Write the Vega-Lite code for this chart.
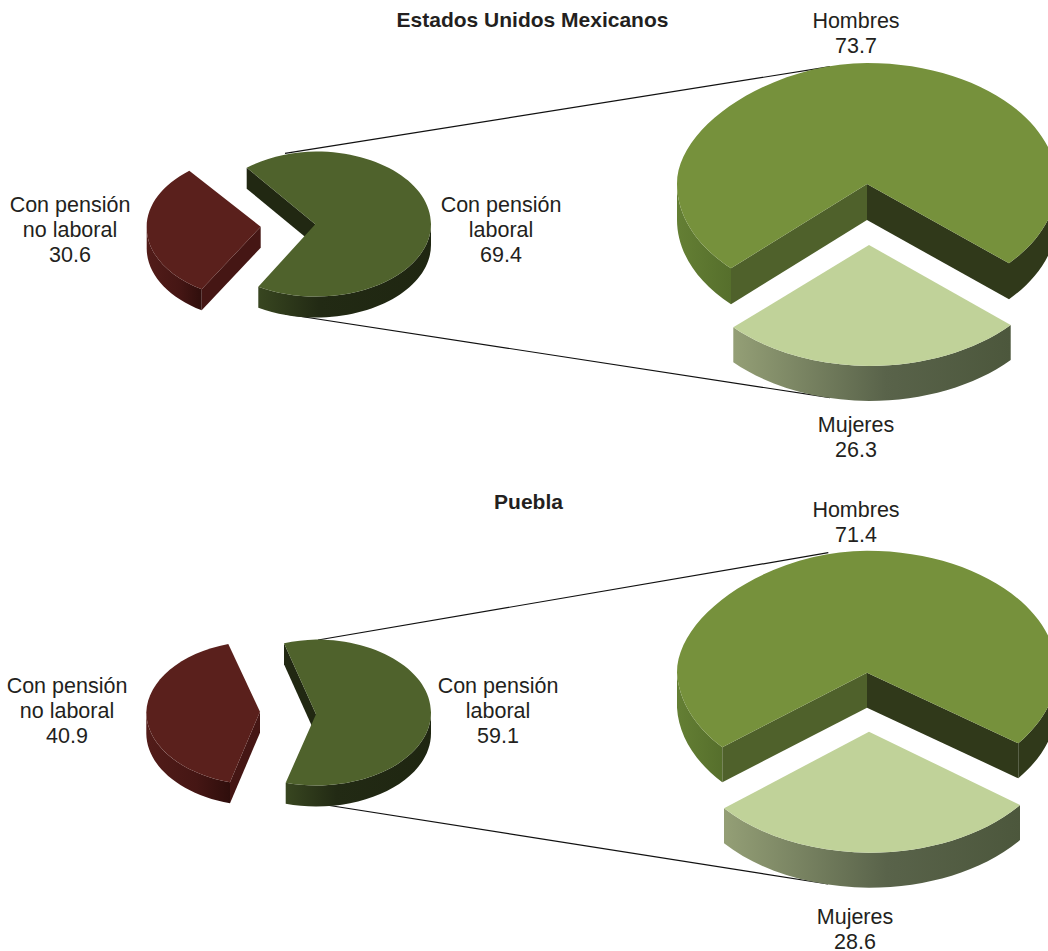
{
"$schema":"https://vega.github.io/schema/vega-lite/v6.json",
"width":1048,"height":951,"padding":0,"autosize":{"type":"none"},"background":"white",
"config":{"view":{"stroke":null}},
"datasets":{
"sectores":[
{"entity":"Estados Unidos Mexicanos","pie":"Total","name":"Con pensión no laboral","value":30.6},
{"entity":"Estados Unidos Mexicanos","pie":"Total","name":"Con pensión laboral","value":69.4},
{"entity":"Estados Unidos Mexicanos","pie":"Sexo","name":"Hombres","value":73.7},
{"entity":"Estados Unidos Mexicanos","pie":"Sexo","name":"Mujeres","value":26.3},
{"entity":"Puebla","pie":"Total","name":"Con pensión no laboral","value":40.9},
{"entity":"Puebla","pie":"Total","name":"Con pensión laboral","value":59.1},
{"entity":"Puebla","pie":"Sexo","name":"Hombres","value":71.4},
{"entity":"Puebla","pie":"Sexo","name":"Mujeres","value":28.6}
],
"titulos":[
{"entity":"Estados Unidos Mexicanos","pie":"Total","titulo":"Estados  Unidos  Mexicanos"},
{"entity":"Puebla","pie":"Total","titulo":"Puebla"}
],
"caras":[
{"entity":"Estados Unidos Mexicanos","pie":"Total","face":"e.c1","tone":"conector"},
{"entity":"Estados Unidos Mexicanos","pie":"Total","face":"e.c2","tone":"conector"},
{"entity":"Puebla","pie":"Total","face":"p.c1","tone":"conector"},
{"entity":"Puebla","pie":"Total","face":"p.c2","tone":"conector"},
{"entity":"Estados Unidos Mexicanos","pie":"Total","face":"e.nl.ext","tone":"nl-ext"},
{"entity":"Puebla","pie":"Total","face":"p.nl.ext","tone":"nl-ext"},
{"entity":"Estados Unidos Mexicanos","pie":"Total","face":"e.l.ext","tone":"l-ext"},
{"entity":"Puebla","pie":"Total","face":"p.l.ext","tone":"l-ext"},
{"entity":"Estados Unidos Mexicanos","pie":"Sexo","face":"e.h.izq","tone":"h-ext"},
{"entity":"Puebla","pie":"Sexo","face":"p.h.izq","tone":"h-ext"},
{"entity":"Estados Unidos Mexicanos","pie":"Sexo","face":"e.m.ext","tone":"m-ext"},
{"entity":"Puebla","pie":"Sexo","face":"p.m.ext","tone":"m-ext"},
{"entity":"Estados Unidos Mexicanos","pie":"Total","face":"e.nl.int","tone":"nl-int"},
{"entity":"Estados Unidos Mexicanos","pie":"Total","face":"e.nl.sup","tone":"nl-sup"},
{"entity":"Estados Unidos Mexicanos","pie":"Total","face":"e.l.int","tone":"l-int"},
{"entity":"Estados Unidos Mexicanos","pie":"Total","face":"e.l.sup","tone":"l-sup"},
{"entity":"Estados Unidos Mexicanos","pie":"Sexo","face":"e.h.der","tone":"h-osc"},
{"entity":"Estados Unidos Mexicanos","pie":"Sexo","face":"e.h.ii","tone":"h-int"},
{"entity":"Estados Unidos Mexicanos","pie":"Sexo","face":"e.h.id","tone":"h-osc"},
{"entity":"Estados Unidos Mexicanos","pie":"Sexo","face":"e.h.sup","tone":"h-sup"},
{"entity":"Estados Unidos Mexicanos","pie":"Sexo","face":"e.m.sup","tone":"m-sup"},
{"entity":"Puebla","pie":"Total","face":"p.nl.int","tone":"nl-int"},
{"entity":"Puebla","pie":"Total","face":"p.nl.sup","tone":"nl-sup"},
{"entity":"Puebla","pie":"Total","face":"p.l.int","tone":"l-int"},
{"entity":"Puebla","pie":"Total","face":"p.l.sup","tone":"l-sup"},
{"entity":"Puebla","pie":"Sexo","face":"p.h.der","tone":"h-osc"},
{"entity":"Puebla","pie":"Sexo","face":"p.h.ii","tone":"h-int"},
{"entity":"Puebla","pie":"Sexo","face":"p.h.id","tone":"h-osc"},
{"entity":"Puebla","pie":"Sexo","face":"p.h.sup","tone":"h-sup"},
{"entity":"Puebla","pie":"Sexo","face":"p.m.sup","tone":"m-sup"}
]
},
"encoding":{
"x":{"field":"pie","type":"nominal","axis":null,"scale":{"type":"point","padding":0,"domain":["Total","Sexo"],"range":[316,867]}},
"y":{"field":"entity","type":"nominal","axis":null,"scale":{"type":"point","padding":0,"domain":["Estados Unidos Mexicanos","Puebla"],"range":[224,712.5]}}
},
"layer":[
{"data":{"name":"caras"},
"encoding":{
"shape":{"field":"face","type":"nominal","legend":null,"scale":{
"domain":["e.c1","e.c2","p.c1","p.c2","e.nl.ext","p.nl.ext","e.l.ext","p.l.ext","e.h.izq","p.h.izq","e.m.ext","p.m.ext","e.nl.int","e.nl.sup","e.l.int","e.l.sup","e.h.der","e.h.ii","e.h.id","e.h.sup","e.m.sup","p.nl.int","p.nl.sup","p.l.int","p.l.sup","p.h.der","p.h.ii","p.h.id","p.h.sup","p.m.sup"],
"range":[
"M-31,-70.7L514,-157.3",
"M-31,90L514,173.7",
"M2,-72.5L512.3,-159.8",
"M4,91.5L512,171.5",
"M-114.3,65.3A115,72.5 0 0 1 -169.3,2.7L-169.3,23.7A115,72.5 0 0 0 -114.3,86.3Z",
"M-86,69.8A115,73 0 0 1 -169.7,0L-169.7,21A115,73 0 0 0 -86,90.8Z",
"M115,0A115,72.5 0 0 1 0,72.5A115,72.5 0 0 1 -57.7,62.7L-57.7,83.7A115,72.5 0 0 0 0,93.5A115,72.5 0 0 0 115,21Z",
"M115,0A115,73 0 0 1 0,73A115,73 0 0 1 -30.3,70.2L-30.3,91.2A115,73 0 0 0 0,94A115,73 0 0 0 115,21Z",
"M-136,44.3A190,121 0 0 1 -190,-40L-190,-4A190,121 0 0 0 -136,80.3Z",
"M-144.7,34.8A190,122 0 0 1 -190,-39.8L-190,-4.8A190,122 0 0 0 -144.7,69.8Z",
"M-133.7,103.3A190,121 0 0 0 2,142A190,121 0 0 0 143.7,101L143.7,136A190,121 0 0 1 2,177A190,121 0 0 1 -133.7,138.3Z",
"M-143,95.8A190,121 0 0 0 2,140.2A190,121 0 0 0 153,92.5L153,127.5A190,121 0 0 1 2,175.2A190,121 0 0 1 -143,130.8Z",
"M-55.3,2.7L-114.3,65.3L-114.3,86.3L-55.3,23.7Z",
"M-55.3,2.7L-114.3,65.3A115,72.5 0 0 1 -169.3,2.7A115,72.5 0 0 1 -126.7,-53.3Z",
"M-0.7,0.3L-69.3,-56.3L-69.3,-35.3L-0.7,21.3Z",
"M-0.7,0.3L-69.3,-56.3A115,72.5 0 0 1 0,-72.5A115,72.5 0 0 1 115,0A115,72.5 0 0 1 0,72.5A115,72.5 0 0 1 -57.7,62.7Z",
"M142,39.3A190,121 0 0 0 190,-40L190,-4A190,121 0 0 1 142,75.3Z",
"M0,-40L-136,44.3L-136,80.3L0,-4Z",
"M0,-40L142,39.3L142,75.3L0,-4Z",
"M0,-40L-136,44.3A190,121 0 0 1 -190,-40C-190,-100 -92,-161 0,-161A190,121 0 0 1 190,-40A190,121 0 0 1 142,39.3Z",
"M2,21L-133.7,103.3A190,121 0 0 0 2,142A190,121 0 0 0 143.7,101Z",
"M-56,-0.8L-86,69.8L-86,90.8L-56,20.2Z",
"M-56,-0.8L-86,69.8A115,73 0 0 1 -169.7,0A115,73 0 0 1 -87.7,-68.5Z",
"M0,1.8L-32,-69.2L-32,-48.2L0,22.8Z",
"M0,1.8L-32,-69.2A115,73 0 0 1 0,-73A115,73 0 0 1 115,0A115,73 0 0 1 0,73A115,73 0 0 1 -30.3,70.2Z",
"M151.3,30.8A190,122 0 0 0 190,-39.8L190,-4.8A190,122 0 0 1 151.3,65.8Z",
"M0,-39.8L-144.7,34.8L-144.7,69.8L0,-4.8Z",
"M0,-39.8L151.3,30.8L151.3,65.8L0,-4.8Z",
"M0,-39.8L-144.7,34.8A190,122 0 0 1 -190,-39.8C-190,-100 -94,-161.8 0,-161.8A190,122 0 0 1 190,-39.8A190,122 0 0 1 151.3,30.8Z",
"M2,19.2L-143,95.8A190,121 0 0 0 2,140.2A190,121 0 0 0 153,92.5Z"
]}},
"size":{"value":4}
},
"layer":[
{"transform":[{"filter":"datum.tone==='conector'"}],
"mark":{"type":"point","filled":false,"stroke":"#111111","strokeWidth":1.2,"opacity":1}},
{"transform":[{"filter":"datum.tone==='nl-ext'"}],
"mark":{"type":"point","filled":true,"opacity":1,"strokeWidth":0,"fill":{"x1":0,"y1":0,"x2":1,"y2":0,"gradient":"linear","stops":[{"offset":0,"color":"#521c19"},{"offset":0.6,"color":"#451614"},{"offset":1,"color":"#2f0e0c"}]}}},
{"transform":[{"filter":"datum.tone==='l-ext'"}],
"mark":{"type":"point","filled":true,"opacity":1,"strokeWidth":0,"fill":{"x1":0,"y1":0,"x2":1,"y2":0,"gradient":"linear","stops":[{"offset":0,"color":"#384620"},{"offset":0.35,"color":"#222a14"},{"offset":1,"color":"#1f2611"}]}}},
{"transform":[{"filter":"datum.tone==='h-ext'"}],
"mark":{"type":"point","filled":true,"opacity":1,"strokeWidth":0,"fill":{"x1":0,"y1":0,"x2":1,"y2":0,"gradient":"linear","stops":[{"offset":0,"color":"#647f34"},{"offset":1,"color":"#566f2c"}]}}},
{"transform":[{"filter":"datum.tone==='m-ext'"}],
"mark":{"type":"point","filled":true,"opacity":1,"strokeWidth":0,"fill":{"x1":0,"y1":0,"x2":1,"y2":0,"gradient":"linear","stops":[{"offset":0,"color":"#949f76"},{"offset":0.55,"color":"#59634a"},{"offset":1,"color":"#4c573c"}]}}},
{"transform":[{"filter":"indexof(['nl-int','nl-sup','l-int','l-sup','h-osc','h-int','h-sup','m-sup'],datum.tone)>=0"}],
"mark":{"type":"point","filled":true,"opacity":1,"strokeWidth":0},
"encoding":{"color":{"field":"tone","type":"nominal","legend":null,"scale":{
"domain":["nl-int","nl-sup","l-int","l-sup","h-osc","h-int","h-sup","m-sup"],
"range":["#451614","#5a201c","#212812","#4f622c","#30391a","#4f612b","#76913c","#c0d299"]}}}}
]},
{"data":{"name":"titulos"},
"transform":[{"filter":"datum.entity==='Puebla'"}],
"mark":{"type":"text","font":"Liberation Sans","fontWeight":"bold","fontSize":21,"fill":"#231f20","align":"center","baseline":"middle","dx":212.5,"dy":-209.5},
"encoding":{"text":{"field":"titulo"}}},
{"data":{"name":"titulos"},
"transform":[{"filter":"datum.entity!=='Puebla'"}],
"mark":{"type":"text","font":"Liberation Sans","fontWeight":"bold","fontSize":21,"fill":"#231f20","align":"center","baseline":"middle","dx":216.5,"dy":-203},
"encoding":{"text":{"field":"titulo"}}},
{"data":{"name":"sectores"},
"transform":[{"calculate":"replace(datum.name,'pensión ','pensión\\n')+'\\n'+format(datum.value,'.1f')","as":"etiqueta"}],
"encoding":{"text":{"field":"etiqueta"}},
"layer":[
{"transform":[{"filter":"datum.entity!=='Puebla'&&datum.name==='Con pensión no laboral'"}],"mark":{"type":"text","font":"Liberation Sans","fontSize":21.5,"fill":"#231f20","lineBreak":"\n","lineHeight":25,"align":"center","baseline":"middle","dx":-246,"dy":-18}},
{"transform":[{"filter":"datum.entity!=='Puebla'&&datum.name==='Con pensión laboral'"}],"mark":{"type":"text","font":"Liberation Sans","fontSize":21.5,"fill":"#231f20","lineBreak":"\n","lineHeight":25,"align":"center","baseline":"middle","dx":185,"dy":-18}},
{"transform":[{"filter":"datum.entity!=='Puebla'&&datum.name==='Hombres'"}],"mark":{"type":"text","font":"Liberation Sans","fontSize":21.5,"fill":"#231f20","lineBreak":"\n","lineHeight":25,"align":"center","baseline":"middle","dx":-11,"dy":-202}},
{"transform":[{"filter":"datum.entity!=='Puebla'&&datum.name==='Mujeres'"}],"mark":{"type":"text","font":"Liberation Sans","fontSize":21.5,"fill":"#231f20","lineBreak":"\n","lineHeight":25,"align":"center","baseline":"middle","dx":-11,"dy":202}},
{"transform":[{"filter":"datum.entity==='Puebla'&&datum.name==='Con pensión no laboral'"}],"mark":{"type":"text","font":"Liberation Sans","fontSize":21.5,"fill":"#231f20","lineBreak":"\n","lineHeight":25,"align":"center","baseline":"middle","dx":-249,"dy":-25.5}},
{"transform":[{"filter":"datum.entity==='Puebla'&&datum.name==='Con pensión laboral'"}],"mark":{"type":"text","font":"Liberation Sans","fontSize":21.5,"fill":"#231f20","lineBreak":"\n","lineHeight":25,"align":"center","baseline":"middle","dx":182,"dy":-25.5}},
{"transform":[{"filter":"datum.entity==='Puebla'&&datum.name==='Hombres'"}],"mark":{"type":"text","font":"Liberation Sans","fontSize":21.5,"fill":"#231f20","lineBreak":"\n","lineHeight":25,"align":"center","baseline":"middle","dx":-11,"dy":-201.5}},
{"transform":[{"filter":"datum.entity==='Puebla'&&datum.name==='Mujeres'"}],"mark":{"type":"text","font":"Liberation Sans","fontSize":21.5,"fill":"#231f20","lineBreak":"\n","lineHeight":25,"align":"center","baseline":"middle","dx":-12,"dy":205.5}}
]}
]
}
